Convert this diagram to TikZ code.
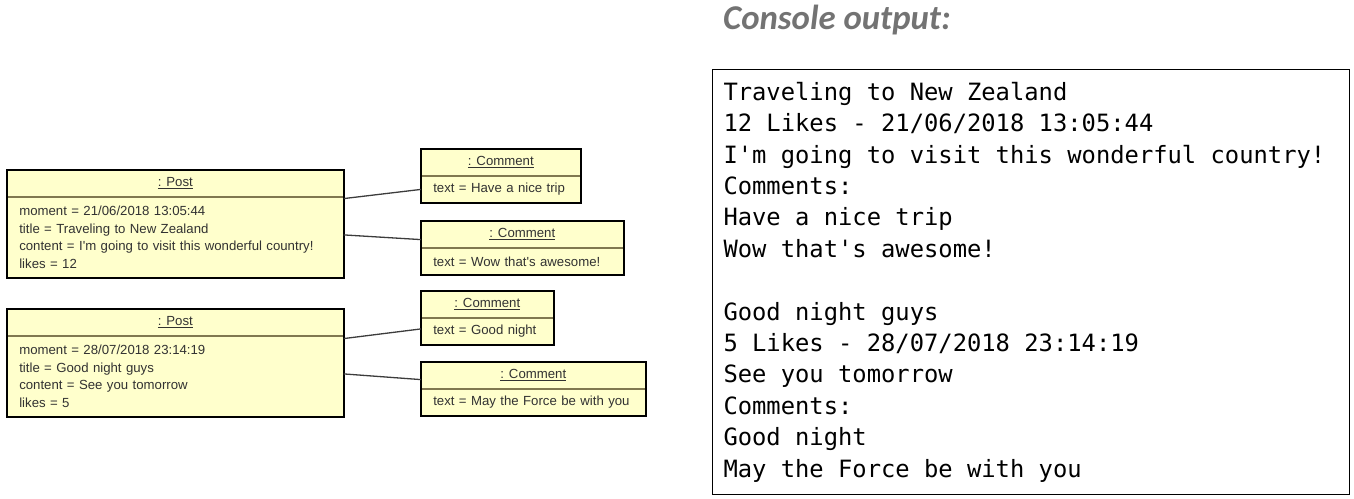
\documentclass[tikz,border=0pt]{standalone}
\usepackage{fontspec}
\usetikzlibrary{positioning}
\newfontfamily\umlfont{Liberation Sans}
\newfontfamily\consolefont{DejaVu Sans Mono}[Ligatures=TeXOff]
\newfontfamily\headfont{Carlito}
\definecolor{objfill}{RGB}{255,255,204}
\definecolor{divline}{RGB}{128,120,80}
\definecolor{linkgray}{RGB}{60,60,60}
\definecolor{umltext}{RGB}{50,50,50}
\definecolor{titlegray}{RGB}{115,115,115}

\begin{document}
\begin{tikzpicture}[x=1pt, y=-1pt,
  objhead/.style={draw=divline, line width=0.6pt, fill=objfill, anchor=north west,
    minimum height=26pt, inner sep=0pt, text=umltext,
    font=\umlfont\fontsize{13.2}{17.7}\selectfont},
  objbody/.style={draw=divline, line width=0.6pt, fill=objfill, inner xsep=12pt,
    inner ysep=0pt, align=left, text=umltext,
    font=\umlfont\fontsize{13.2}{17.7}\selectfont},
  objframe/.style={line width=2pt, black},
  link/.style={line width=1.3pt, linkgray}]
  \useasboundingbox (0,0) rectangle (1354,498);

  % First post with its comments
  \node[objhead, minimum width=336pt] (p1head) at (7,170) {\underline{: Post}};
  \node[objbody, text width=312pt, minimum height=81pt, below=0pt of p1head] (p1body)
    {moment = 21/06/2018 13:05:44\\
     title = Traveling to New Zealand\\
     content = I'm going to visit this wonderful country!\\
     likes = 12};
  \draw[objframe] (p1head.north west) rectangle (p1body.south east);

  \node[objhead, minimum width=159pt] (c1head) at (421,149) {\underline{: Comment}};
  \node[objbody, text width=135pt, minimum height=27pt, below=0pt of c1head] (c1body)
    {text = Have a nice trip};
  \draw[objframe] (c1head.north west) rectangle (c1body.south east);

  \node[objhead, minimum width=202pt] (c2head) at (421,221) {\underline{: Comment}};
  \node[objbody, text width=178pt, minimum height=27pt, below=0pt of c2head] (c2body)
    {text = Wow that's awesome!};
  \draw[objframe] (c2head.north west) rectangle (c2body.south east);

  \draw[link] ([yshift=-2pt]p1body.north east) -- (c1body.west);
  \draw[link] ([yshift=2.5pt]p1body.east) -- ([yshift=8pt]c2body.north west);

  % Second post with its comments
  \node[objhead, minimum width=336pt] (p2head) at (7,309) {\underline{: Post}};
  \node[objbody, text width=312pt, minimum height=81pt, below=0pt of p2head] (p2body)
    {moment = 28/07/2018 23:14:19\\
     title = Good night guys\\
     content = See you tomorrow\\
     likes = 5};
  \draw[objframe] (p2head.north west) rectangle (p2body.south east);

  \node[objhead, minimum width=132pt] (c3head) at (421,291) {\underline{: Comment}};
  \node[objbody, text width=108pt, minimum height=27pt, below=0pt of c3head] (c3body)
    {text = Good night};
  \draw[objframe] (c3head.north west) rectangle (c3body.south east);

  \node[objhead, minimum width=224pt] (c4head) at (421,362) {\underline{: Comment}};
  \node[objbody, text width=200pt, minimum height=27pt, below=0pt of c4head] (c4body)
    {text = May the Force be with you};
  \draw[objframe] (c4head.north west) rectangle (c4body.south east);

  \draw[link] ([yshift=-3pt]p2body.north east) -- ([yshift=2.5pt]c3body.west);
  \draw[link] ([yshift=2.5pt]p2body.east) -- ([yshift=9pt]c4body.north west);

  % Console
  \node[anchor=base west, inner sep=0pt, text=titlegray,
    font=\headfont\bfseries\itshape\fontsize{34.8}{40}\selectfont] (title) at (723,29)
    {Console output:};
  \node[draw, line width=1pt, anchor=north west, inner xsep=11pt, inner ysep=0pt,
    text width=615pt, minimum height=425pt, align=left,
    font=\consolefont\fontsize{23.8}{31.4}\selectfont] (console) at (712,69)
    {\spaceskip=14.33pt\relax
     Traveling to New Zealand\\
     12 Likes - 21/06/2018 13:05:44\\
     I'm going to visit this wonderful country!\\
     Comments:\\
     Have a nice trip\\
     Wow that's awesome!\\[31.4pt]
     Good night guys\\
     5 Likes - 28/07/2018 23:14:19\\
     See you tomorrow\\
     Comments:\\
     Good night\\
     May the Force be with you};
\end{tikzpicture}
\end{document}
